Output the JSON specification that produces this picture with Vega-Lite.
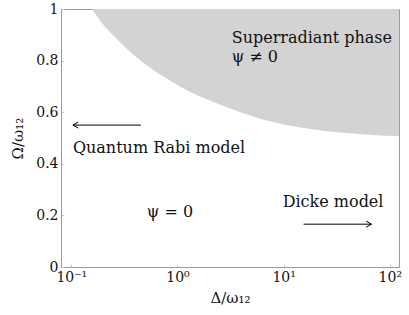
{
  "$schema": "https://vega.github.io/schema/vega-lite/v6.json",
  "width": 338,
  "height": 258,
  "autosize": {"type": "none"},
  "padding": {"left": 61, "top": 9, "right": 10, "bottom": 48},
  "background": "white",
  "config": {
    "view": {"stroke": "#9a9a9a", "strokeWidth": 1},
    "font": "DejaVu Serif",
    "axis": {
      "grid": false,
      "domainColor": "#9a9a9a",
      "tickColor": "#c8c8c8",
      "tickSize": -3,
      "labelFont": "DejaVu Serif",
      "labelFontSize": 14,
      "labelColor": "#111",
      "titleFont": "DejaVu Serif",
      "titleFontSize": 15,
      "titleFontWeight": "normal",
      "titleColor": "#111"
    }
  },
  "datasets": {
    "curve": [
      {"delta": 0.156, "omega": 1.0},
      {"delta": 0.198, "omega": 0.942},
      {"delta": 0.255, "omega": 0.893},
      {"delta": 0.34, "omega": 0.842},
      {"delta": 0.489, "omega": 0.788},
      {"delta": 0.727, "omega": 0.74},
      {"delta": 1.05, "omega": 0.7},
      {"delta": 1.62, "omega": 0.662},
      {"delta": 2.5, "omega": 0.63},
      {"delta": 3.85, "omega": 0.601},
      {"delta": 7.88, "omega": 0.562},
      {"delta": 16.5, "omega": 0.537},
      {"delta": 33.6, "omega": 0.521},
      {"delta": 68.7, "omega": 0.512},
      {"delta": 130, "omega": 0.507}
    ],
    "arrows": [
      {"xs": 0.452, "xe": 0.1035, "y": 0.55, "dir": "left"},
      {"xs": 15.4, "xe": 67.3, "y": 0.166, "dir": "right"}
    ],
    "labels": [
      {"text": "Superradiant phase", "x": 3.24, "y": 0.868},
      {"text": "ψ ≠ 0", "x": 3.24, "y": 0.794},
      {"text": "Quantum Rabi model", "x": 0.1035, "y": 0.441},
      {"text": "ψ = 0", "x": 0.514, "y": 0.193},
      {"text": "Dicke model", "x": 9.79, "y": 0.232}
    ]
  },
  "layer": [
    {
      "data": {"name": "curve"},
      "mark": {"type": "area", "color": "#d3d3d3", "clip": true, "interpolate": "monotone"},
      "encoding": {
        "x": {
          "field": "delta", "type": "quantitative",
          "scale": {"type": "log", "domain": [0.08, 122], "nice": false},
          "axis": {
            "values": [0.1, 1, 10, 100],
            "labelExpr": "datum.value < 0.5 ? '10⁻¹' : datum.value < 5 ? '10⁰' : datum.value < 50 ? '10¹' : '10²'",
            "labelPadding": 6,
            "title": "Δ/ω₁₂",
            "titlePadding": 6
          }
        },
        "y": {
          "field": "omega", "type": "quantitative",
          "scale": {"domain": [0, 1], "nice": false},
          "axis": {
            "values": [0, 0.2, 0.4, 0.6, 0.8, 1],
            "format": "~g",
            "labelPadding": 6,
            "title": "Ω/ω₁₂",
            "titlePadding": 10
          }
        },
        "y2": {"datum": 1}
      }
    },
    {
      "data": {"name": "arrows"},
      "mark": {"type": "rule", "color": "black", "strokeWidth": 1},
      "encoding": {
        "x": {"field": "xs", "type": "quantitative"},
        "x2": {"field": "xe"},
        "y": {"field": "y", "type": "quantitative"}
      }
    },
    {
      "data": {"name": "arrows"},
      "mark": {"type": "point", "filled": false, "stroke": "black", "strokeWidth": 1, "size": 30, "opacity": 1},
      "encoding": {
        "x": {"field": "xe", "type": "quantitative"},
        "y": {"field": "y", "type": "quantitative"},
        "shape": {
          "condition": {"test": "datum.dir == 'left'", "value": "M2,-1.1L0,0L2,1.1"},
          "value": "M-2,-1.1L0,0L-2,1.1"
        }
      }
    },
    {
      "data": {"name": "labels"},
      "mark": {"type": "text", "align": "left", "baseline": "alphabetic", "fontSize": 16, "font": "DejaVu Serif", "color": "#111"},
      "encoding": {
        "x": {"field": "x", "type": "quantitative"},
        "y": {"field": "y", "type": "quantitative"},
        "text": {"field": "text"}
      }
    }
  ]
}
